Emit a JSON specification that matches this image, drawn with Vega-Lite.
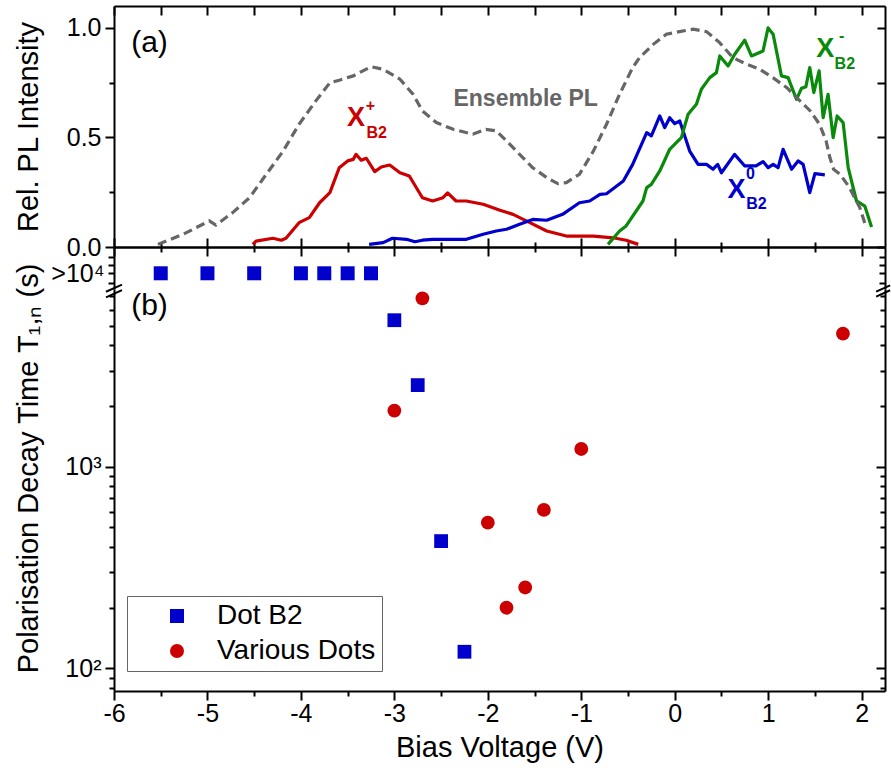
{
  "$schema": "https://vega.github.io/schema/vega-lite/v6.json",
  "padding": {"left": 13, "top": 5, "right": 0, "bottom": 5},
  "config": {
    "font": "Liberation Sans",
    "view": {"stroke": null},
    "axis": {"grid": false, "domainColor": "#000", "domainWidth": 2, "tickColor": "#000", "tickWidth": 2, "labelColor": "#000", "labelFontSize": 25, "labelFont": "Liberation Sans", "titleFont": "Liberation Sans", "titleFontSize": 29, "titleFontWeight": "normal", "titleColor": "#000", "labelFlush": false, "labelOverlap": false, "labelBound": false},
    "text": {"font": "Liberation Sans"}
  },
  "datasets": {
    "pl": [
      {"series": "X+", "V": -4.515, "I": 0.012}, {"series": "X+", "V": -4.48, "I": 0.027}, {"series": "X+", "V": -4.3, "I": 0.04}, {"series": "X+", "V": -4.21, "I": 0.031}, {"series": "X+", "V": -4.16, "I": 0.04}, {"series": "X+", "V": -4.02, "I": 0.111}, {"series": "X+", "V": -3.91, "I": 0.134}, {"series": "X+", "V": -3.8, "I": 0.202}, {"series": "X+", "V": -3.69, "I": 0.248}, {"series": "X+", "V": -3.59, "I": 0.362}, {"series": "X+", "V": -3.5, "I": 0.393}, {"series": "X+", "V": -3.44, "I": 0.4}, {"series": "X+", "V": -3.41, "I": 0.423}, {"series": "X+", "V": -3.355, "I": 0.396}, {"series": "X+", "V": -3.3, "I": 0.405}, {"series": "X+", "V": -3.21, "I": 0.344}, {"series": "X+", "V": -3.14, "I": 0.365}, {"series": "X+", "V": -3.05, "I": 0.374}, {"series": "X+", "V": -2.94, "I": 0.339}, {"series": "X+", "V": -2.84, "I": 0.324}, {"series": "X+", "V": -2.7, "I": 0.225}, {"series": "X+", "V": -2.59, "I": 0.21}, {"series": "X+", "V": -2.48, "I": 0.225}, {"series": "X+", "V": -2.43, "I": 0.247}, {"series": "X+", "V": -2.34, "I": 0.21}, {"series": "X+", "V": -2.23, "I": 0.21}, {"series": "X+", "V": -2.05, "I": 0.195}, {"series": "X+", "V": -1.87, "I": 0.168}, {"series": "X+", "V": -1.73, "I": 0.149}, {"series": "X+", "V": -1.55, "I": 0.111}, {"series": "X+", "V": -1.37, "I": 0.073}, {"series": "X+", "V": -1.16, "I": 0.05}, {"series": "X+", "V": -0.87, "I": 0.05}, {"series": "X+", "V": -0.66, "I": 0.042}, {"series": "X+", "V": -0.52, "I": 0.031}, {"series": "X+", "V": -0.39, "I": 0.012},
      {"series": "X0", "V": -3.27, "I": 0.012}, {"series": "X0", "V": -3.12, "I": 0.02}, {"series": "X0", "V": -3.02, "I": 0.04}, {"series": "X0", "V": -2.87, "I": 0.035}, {"series": "X0", "V": -2.78, "I": 0.024}, {"series": "X0", "V": -2.7, "I": 0.031}, {"series": "X0", "V": -2.59, "I": 0.035}, {"series": "X0", "V": -2.23, "I": 0.035}, {"series": "X0", "V": -2.05, "I": 0.058}, {"series": "X0", "V": -1.91, "I": 0.073}, {"series": "X0", "V": -1.8, "I": 0.081}, {"series": "X0", "V": -1.66, "I": 0.104}, {"series": "X0", "V": -1.52, "I": 0.126}, {"series": "X0", "V": -1.37, "I": 0.122}, {"series": "X0", "V": -1.2, "I": 0.149}, {"series": "X0", "V": -1.02, "I": 0.202}, {"series": "X0", "V": -0.91, "I": 0.21}, {"series": "X0", "V": -0.8, "I": 0.24}, {"series": "X0", "V": -0.73, "I": 0.243}, {"series": "X0", "V": -0.55, "I": 0.301}, {"series": "X0", "V": -0.45, "I": 0.377}, {"series": "X0", "V": -0.3, "I": 0.522}, {"series": "X0", "V": -0.25, "I": 0.507}, {"series": "X0", "V": -0.16, "I": 0.598}, {"series": "X0", "V": -0.107, "I": 0.545}, {"series": "X0", "V": -0.054, "I": 0.59}, {"series": "X0", "V": 0.0, "I": 0.563}, {"series": "X0", "V": 0.054, "I": 0.575}, {"series": "X0", "V": 0.16, "I": 0.438}, {"series": "X0", "V": 0.25, "I": 0.377}, {"series": "X0", "V": 0.34, "I": 0.377}, {"series": "X0", "V": 0.41, "I": 0.355}, {"series": "X0", "V": 0.46, "I": 0.377}, {"series": "X0", "V": 0.5, "I": 0.339}, {"series": "X0", "V": 0.64, "I": 0.423}, {"series": "X0", "V": 0.75, "I": 0.37}, {"series": "X0", "V": 0.87, "I": 0.37}, {"series": "X0", "V": 0.945, "I": 0.39}, {"series": "X0", "V": 1.0, "I": 0.362}, {"series": "X0", "V": 1.053, "I": 0.377}, {"series": "X0", "V": 1.106, "I": 0.362}, {"series": "X0", "V": 1.16, "I": 0.446}, {"series": "X0", "V": 1.25, "I": 0.355}, {"series": "X0", "V": 1.32, "I": 0.393}, {"series": "X0", "V": 1.374, "I": 0.377}, {"series": "X0", "V": 1.445, "I": 0.248}, {"series": "X0", "V": 1.5, "I": 0.335}, {"series": "X0", "V": 1.606, "I": 0.329},
      {"series": "X-", "V": -0.714, "I": 0.012}, {"series": "X-", "V": -0.59, "I": 0.073}, {"series": "X-", "V": -0.52, "I": 0.096}, {"series": "X-", "V": -0.34, "I": 0.21}, {"series": "X-", "V": -0.3, "I": 0.271}, {"series": "X-", "V": -0.25, "I": 0.286}, {"series": "X-", "V": -0.16, "I": 0.347}, {"series": "X-", "V": -0.054, "I": 0.446}, {"series": "X-", "V": 0.036, "I": 0.484}, {"series": "X-", "V": 0.071, "I": 0.499}, {"series": "X-", "V": 0.143, "I": 0.606}, {"series": "X-", "V": 0.232, "I": 0.652}, {"series": "X-", "V": 0.285, "I": 0.72}, {"series": "X-", "V": 0.375, "I": 0.773}, {"series": "X-", "V": 0.446, "I": 0.796}, {"series": "X-", "V": 0.482, "I": 0.872}, {"series": "X-", "V": 0.571, "I": 0.826}, {"series": "X-", "V": 0.642, "I": 0.88}, {"series": "X-", "V": 0.749, "I": 0.944}, {"series": "X-", "V": 0.821, "I": 0.872}, {"series": "X-", "V": 0.945, "I": 0.895}, {"series": "X-", "V": 0.999, "I": 1.0}, {"series": "X-", "V": 1.053, "I": 0.971}, {"series": "X-", "V": 1.142, "I": 0.781}, {"series": "X-", "V": 1.213, "I": 0.773}, {"series": "X-", "V": 1.303, "I": 0.674}, {"series": "X-", "V": 1.356, "I": 0.724}, {"series": "X-", "V": 1.403, "I": 0.731}, {"series": "X-", "V": 1.445, "I": 0.819}, {"series": "X-", "V": 1.488, "I": 0.705}, {"series": "X-", "V": 1.545, "I": 0.804}, {"series": "X-", "V": 1.588, "I": 0.59}, {"series": "X-", "V": 1.641, "I": 0.697}, {"series": "X-", "V": 1.695, "I": 0.499}, {"series": "X-", "V": 1.738, "I": 0.598}, {"series": "X-", "V": 1.802, "I": 0.568}, {"series": "X-", "V": 1.856, "I": 0.362}, {"series": "X-", "V": 1.945, "I": 0.21}, {"series": "X-", "V": 2.034, "I": 0.187}, {"series": "X-", "V": 2.106, "I": 0.091},
      {"series": "Ensemble PL", "V": -5.53, "I": 0.012}, {"series": "Ensemble PL", "V": -5.26, "I": 0.058}, {"series": "Ensemble PL", "V": -4.98, "I": 0.119}, {"series": "Ensemble PL", "V": -4.91, "I": 0.1}, {"series": "Ensemble PL", "V": -4.73, "I": 0.157}, {"series": "Ensemble PL", "V": -4.55, "I": 0.225}, {"series": "Ensemble PL", "V": -4.37, "I": 0.332}, {"series": "Ensemble PL", "V": -4.19, "I": 0.438}, {"series": "Ensemble PL", "V": -4.02, "I": 0.56}, {"series": "Ensemble PL", "V": -3.84, "I": 0.667}, {"series": "Ensemble PL", "V": -3.69, "I": 0.75}, {"series": "Ensemble PL", "V": -3.59, "I": 0.761}, {"series": "Ensemble PL", "V": -3.44, "I": 0.781}, {"series": "Ensemble PL", "V": -3.25, "I": 0.823}, {"series": "Ensemble PL", "V": -3.12, "I": 0.811}, {"series": "Ensemble PL", "V": -2.94, "I": 0.766}, {"series": "Ensemble PL", "V": -2.8, "I": 0.697}, {"series": "Ensemble PL", "V": -2.7, "I": 0.621}, {"series": "Ensemble PL", "V": -2.55, "I": 0.568}, {"series": "Ensemble PL", "V": -2.37, "I": 0.537}, {"series": "Ensemble PL", "V": -2.16, "I": 0.515}, {"series": "Ensemble PL", "V": -2.02, "I": 0.537}, {"series": "Ensemble PL", "V": -1.91, "I": 0.53}, {"series": "Ensemble PL", "V": -1.8, "I": 0.484}, {"series": "Ensemble PL", "V": -1.66, "I": 0.423}, {"series": "Ensemble PL", "V": -1.52, "I": 0.362}, {"series": "Ensemble PL", "V": -1.37, "I": 0.317}, {"series": "Ensemble PL", "V": -1.25, "I": 0.289}, {"series": "Ensemble PL", "V": -1.16, "I": 0.294}, {"series": "Ensemble PL", "V": -1.02, "I": 0.332}, {"series": "Ensemble PL", "V": -0.87, "I": 0.438}, {"series": "Ensemble PL", "V": -0.73, "I": 0.56}, {"series": "Ensemble PL", "V": -0.59, "I": 0.697}, {"series": "Ensemble PL", "V": -0.45, "I": 0.819}, {"series": "Ensemble PL", "V": -0.375, "I": 0.865}, {"series": "Ensemble PL", "V": -0.23, "I": 0.925}, {"series": "Ensemble PL", "V": -0.09, "I": 0.971}, {"series": "Ensemble PL", "V": 0.05, "I": 0.983}, {"series": "Ensemble PL", "V": 0.2, "I": 0.994}, {"series": "Ensemble PL", "V": 0.34, "I": 0.983}, {"series": "Ensemble PL", "V": 0.48, "I": 0.933}, {"series": "Ensemble PL", "V": 0.62, "I": 0.865}, {"series": "Ensemble PL", "V": 0.77, "I": 0.834}, {"series": "Ensemble PL", "V": 0.91, "I": 0.811}, {"series": "Ensemble PL", "V": 1.05, "I": 0.773}, {"series": "Ensemble PL", "V": 1.2, "I": 0.727}, {"series": "Ensemble PL", "V": 1.34, "I": 0.667}, {"series": "Ensemble PL", "V": 1.45, "I": 0.621}, {"series": "Ensemble PL", "V": 1.55, "I": 0.56}, {"series": "Ensemble PL", "V": 1.62, "I": 0.484}, {"series": "Ensemble PL", "V": 1.66, "I": 0.408}, {"series": "Ensemble PL", "V": 1.7, "I": 0.355}, {"series": "Ensemble PL", "V": 1.77, "I": 0.332}, {"series": "Ensemble PL", "V": 1.87, "I": 0.271}, {"series": "Ensemble PL", "V": 1.98, "I": 0.18}, {"series": "Ensemble PL", "V": 2.05, "I": 0.088}
    ],
    "decay": [
      {"group": "Dot B2", "V": -5.5, "T": 10000, "lower_bound": true},
      {"group": "Dot B2", "V": -5.0, "T": 10000, "lower_bound": true},
      {"group": "Dot B2", "V": -4.5, "T": 10000, "lower_bound": true},
      {"group": "Dot B2", "V": -4.0, "T": 10000, "lower_bound": true},
      {"group": "Dot B2", "V": -3.75, "T": 10000, "lower_bound": true},
      {"group": "Dot B2", "V": -3.5, "T": 10000, "lower_bound": true},
      {"group": "Dot B2", "V": -3.25, "T": 10000, "lower_bound": true},
      {"group": "Dot B2", "V": -3.0, "T": 5330, "lower_bound": false},
      {"group": "Dot B2", "V": -2.75, "T": 2540, "lower_bound": false},
      {"group": "Dot B2", "V": -2.5, "T": 428, "lower_bound": false},
      {"group": "Dot B2", "V": -2.25, "T": 121, "lower_bound": false},
      {"group": "Various Dots", "V": -3.0, "T": 1900, "lower_bound": false},
      {"group": "Various Dots", "V": -2.7, "T": 6840, "lower_bound": false},
      {"group": "Various Dots", "V": -2.0, "T": 528, "lower_bound": false},
      {"group": "Various Dots", "V": -1.8, "T": 200, "lower_bound": false},
      {"group": "Various Dots", "V": -1.6, "T": 252, "lower_bound": false},
      {"group": "Various Dots", "V": -1.4, "T": 611, "lower_bound": false},
      {"group": "Various Dots", "V": -1.0, "T": 1225, "lower_bound": false},
      {"group": "Various Dots", "V": 1.8, "T": 4570, "lower_bound": false}
    ]
  },
  "vconcat": [
    {
      "width": 771,
      "height": 241,
      "layer": [
        {
          "data": {"name": "pl"},
          "transform": [{"filter": "datum.series != 'Ensemble PL'"}],
          "mark": {"type": "line", "strokeWidth": 3.2, "strokeJoin": "round"},
          "encoding": {
            "x": {"field": "V", "type": "quantitative", "scale": {"domain": [-6, 2.25], "nice": false, "zero": false},
              "axis": {"orient": "bottom", "labels": false, "title": null, "values": [-6, -5.5, -5, -4.5, -4, -3.5, -3, -2.5, -2, -1.5, -1, -0.5, 0, 0.5, 1, 1.5, 2], "tickSize": {"condition": {"test": "datum.value % 1 == 0", "value": -9}, "value": -5}}},
            "y": {"field": "I", "type": "quantitative", "scale": {"domain": [0, 1.1], "nice": false, "zero": false},
              "axis": {"orient": "left", "title": "Rel. PL Intensity", "values": [0, 0.25, 0.5, 0.75, 1], "labelExpr": "datum.value == 0 ? '0.0' : datum.value == 0.5 ? '0.5' : datum.value == 1 ? '1.0' : ''", "tickSize": {"condition": {"test": "datum.value % 0.5 == 0", "value": 9}, "value": 5}, "labelPadding": 4, "titleX": -86, "titleBaseline": "middle"}},
            "color": {"field": "series", "type": "nominal", "scale": {"domain": ["X+", "X0", "X-"], "range": ["#cc0000", "#0000cc", "#0a8a0a"]}, "legend": null}
          }
        },
        {
          "data": {"name": "pl"},
          "transform": [{"filter": "datum.series == 'Ensemble PL'"}],
          "mark": {"type": "line", "strokeWidth": 3.2, "strokeDash": [9, 5], "color": "#666666"},
          "encoding": {
            "x": {"field": "V", "type": "quantitative", "axis": {"orient": "top", "labels": false, "title": null, "values": [-6, -5.5, -5, -4.5, -4, -3.5, -3, -2.5, -2, -1.5, -1, -0.5, 0, 0.5, 1, 1.5, 2], "tickSize": -9}},
            "y": {"field": "I", "type": "quantitative", "axis": {"orient": "right", "labels": false, "title": null, "values": [0, 0.25, 0.5, 0.75, 1], "tickSize": -8}}
          }
        },
        {"data": {"values": [{}]}, "mark": {"type": "text", "text": "(a)", "fontSize": 30, "align": "center", "baseline": "middle", "color": "#000"},
          "encoding": {"x": {"datum": -5.62, "type": "quantitative", "axis": null}, "y": {"datum": 0.932, "type": "quantitative", "axis": null}}},
        {"data": {"values": [{}]}, "mark": {"type": "text", "text": "Ensemble PL", "fontSize": 23, "fontWeight": "bold", "align": "center", "baseline": "middle", "color": "#666666"},
          "encoding": {"x": {"datum": -1.595, "type": "quantitative", "axis": null}, "y": {"datum": 0.676, "type": "quantitative", "axis": null}}},
        {"data": {"values": [{}]}, "mark": {"type": "text", "text": "X", "fontSize": 27, "fontWeight": "bold", "align": "center", "baseline": "middle", "color": "#cc0000"},
          "encoding": {"x": {"datum": -3.41, "type": "quantitative", "axis": null}, "y": {"datum": 0.589, "type": "quantitative", "axis": null}}},
        {"data": {"values": [{}]}, "mark": {"type": "text", "text": "+", "fontSize": 16, "fontWeight": "bold", "align": "center", "baseline": "middle", "color": "#cc0000"},
          "encoding": {"x": {"datum": -3.255, "type": "quantitative", "axis": null}, "y": {"datum": 0.644, "type": "quantitative", "axis": null}}},
        {"data": {"values": [{}]}, "mark": {"type": "text", "text": "B2", "fontSize": 16, "fontWeight": "bold", "align": "center", "baseline": "middle", "color": "#cc0000"},
          "encoding": {"x": {"datum": -3.19, "type": "quantitative", "axis": null}, "y": {"datum": 0.522, "type": "quantitative", "axis": null}}},
        {"data": {"values": [{}]}, "mark": {"type": "text", "text": "X", "fontSize": 27, "fontWeight": "bold", "align": "center", "baseline": "middle", "color": "#0000cc"},
          "encoding": {"x": {"datum": 0.66, "type": "quantitative", "axis": null}, "y": {"datum": 0.26, "type": "quantitative", "axis": null}}},
        {"data": {"values": [{}]}, "mark": {"type": "text", "text": "0", "fontSize": 16, "fontWeight": "bold", "align": "center", "baseline": "middle", "color": "#0000cc"},
          "encoding": {"x": {"datum": 0.81, "type": "quantitative", "axis": null}, "y": {"datum": 0.332, "type": "quantitative", "axis": null}}},
        {"data": {"values": [{}]}, "mark": {"type": "text", "text": "B2", "fontSize": 16, "fontWeight": "bold", "align": "center", "baseline": "middle", "color": "#0000cc"},
          "encoding": {"x": {"datum": 0.875, "type": "quantitative", "axis": null}, "y": {"datum": 0.195, "type": "quantitative", "axis": null}}},
        {"data": {"values": [{}]}, "mark": {"type": "text", "text": "X", "fontSize": 27, "fontWeight": "bold", "align": "center", "baseline": "middle", "color": "#0a8a0a"},
          "encoding": {"x": {"datum": 1.611, "type": "quantitative", "axis": null}, "y": {"datum": 0.906, "type": "quantitative", "axis": null}}},
        {"data": {"values": [{}]}, "mark": {"type": "text", "text": "-", "fontSize": 16, "fontWeight": "bold", "align": "center", "baseline": "middle", "color": "#0a8a0a"},
          "encoding": {"x": {"datum": 1.785, "type": "quantitative", "axis": null}, "y": {"datum": 0.963, "type": "quantitative", "axis": null}}},
        {"data": {"values": [{}]}, "mark": {"type": "text", "text": "B2", "fontSize": 16, "fontWeight": "bold", "align": "center", "baseline": "middle", "color": "#0a8a0a"},
          "encoding": {"x": {"datum": 1.82, "type": "quantitative", "axis": null}, "y": {"datum": 0.834, "type": "quantitative", "axis": null}}}
      ],
      "resolve": {"axis": {"x": "independent", "y": "independent"}}
    },
    {
      "width": 771,
      "height": 42,
      "layer": [
        {
          "data": {"name": "decay"},
          "transform": [{"filter": "datum.lower_bound"}],
          "mark": {"type": "point", "shape": "square", "filled": true, "size": 196, "color": "#0000cc", "opacity": 1},
          "encoding": {
            "x": {"field": "V", "type": "quantitative", "scale": {"domain": [-6, 2.25], "nice": false, "zero": false},
              "axis": {"orient": "top", "labels": false, "title": null, "values": [-6, -5.5, -5, -4.5, -4, -3.5, -3, -2.5, -2, -1.5, -1, -0.5, 0, 0.5, 1, 1.5, 2], "tickSize": {"condition": {"test": "datum.value % 1 == 0", "value": -9}, "value": -5}}},
            "y": {"field": "T", "type": "quantitative", "scale": {"type": "log", "domain": [8384, 13430], "nice": false},
              "axis": {"orient": "left", "title": null, "values": [9000, 10000, 11000, 12000], "labelExpr": "datum.value == 10000 ? '>10⁴' : ''", "tickSize": 6, "labelPadding": 4}}
          }
        },
        {
          "data": {"values": [{}]},
          "mark": {"type": "point", "shape": "M-1,0.1L1,-0.8M-1,0.8L1,-0.1", "size": 256, "filled": false, "stroke": "#000", "strokeWidth": 2, "opacity": 1},
          "encoding": {
            "x": {"datum": -6, "type": "quantitative", "axis": null},
            "y": {"datum": 8200, "type": "quantitative", "axis": {"orient": "right", "labels": false, "title": null, "values": [9000, 10000, 11000, 12000], "tickSize": -6}}
          }
        },
        {
          "data": {"values": [{}]},
          "mark": {"type": "point", "shape": "M-1,0.1L1,-0.8M-1,0.8L1,-0.1", "size": 196, "filled": false, "stroke": "#000", "strokeWidth": 2, "opacity": 1},
          "encoding": {
            "x": {"datum": 2.23, "type": "quantitative", "axis": null},
            "y": {"datum": 8200, "type": "quantitative", "axis": null}
          }
        }
      ],
      "resolve": {"axis": {"x": "independent", "y": "independent"}}
    },
    {
      "width": 771,
      "height": 402,
      "layer": [
        {
          "data": {"name": "decay"},
          "transform": [{"filter": "!datum.lower_bound"}],
          "mark": {"type": "point", "filled": true, "size": 190, "opacity": 1},
          "encoding": {
            "x": {"field": "V", "type": "quantitative", "scale": {"domain": [-6, 2.25], "nice": false, "zero": false},
              "axis": {"orient": "bottom", "title": "Bias Voltage (V)", "values": [-6, -5.5, -5, -4.5, -4, -3.5, -3, -2.5, -2, -1.5, -1, -0.5, 0, 0.5, 1, 1.5, 2], "labelExpr": "datum.value % 1 == 0 ? '' + datum.value : ''", "tickSize": {"condition": {"test": "datum.value % 1 == 0", "value": 9}, "value": 5}, "labelPadding": 1, "titlePadding": 7}},
            "y": {"field": "T", "type": "quantitative", "scale": {"type": "log", "domain": [77.3, 7611], "nice": false},
              "axis": {"orient": "left", "title": "Polarisation Decay Time T₁,ₙ (s)", "values": [80, 90, 100, 200, 300, 400, 500, 600, 700, 800, 900, 1000, 2000, 3000, 4000, 5000, 6000, 7000], "labelExpr": "datum.value == 100 ? '10²' : datum.value == 1000 ? '10³' : ''", "tickSize": {"condition": {"test": "datum.value == 100 || datum.value == 1000", "value": 9}, "value": 5}, "labelPadding": 4, "titleX": -86, "titleY": 179, "titleBaseline": "middle"}},
            "color": {"field": "group", "type": "nominal", "scale": {"domain": ["Dot B2", "Various Dots"], "range": ["#0000cc", "#cc0000"]},
              "legend": {"orient": "none", "legendX": 13, "legendY": 307, "title": null, "labelFontSize": 28, "labelColor": "#000", "symbolSize": 196, "padding": 6, "symbolOffset": 30, "labelOffset": 26, "strokeColor": "#666666", "rowPadding": 7, "symbolStrokeWidth": 0}},
            "shape": {"field": "group", "type": "nominal", "scale": {"domain": ["Dot B2", "Various Dots"], "range": ["square", "circle"]},
              "legend": {"orient": "none", "legendX": 13, "legendY": 307, "title": null, "labelFontSize": 28, "labelColor": "#000", "symbolSize": 196, "padding": 6, "symbolOffset": 30, "labelOffset": 26, "strokeColor": "#666666", "rowPadding": 7, "symbolStrokeWidth": 0}}
          }
        },
        {
          "data": {"values": [{}]},
          "mark": {"type": "text", "text": "(b)", "fontSize": 30, "align": "center", "baseline": "middle", "color": "#000"},
          "encoding": {
            "x": {"datum": -5.62, "type": "quantitative", "axis": null},
            "y": {"datum": 6270, "type": "quantitative", "axis": {"orient": "right", "labels": false, "title": null, "values": [80, 90, 100, 200, 300, 400, 500, 600, 700, 800, 900, 1000, 2000, 3000, 4000, 5000, 6000, 7000], "tickSize": {"condition": {"test": "datum.value == 100 || datum.value == 1000", "value": -9}, "value": -5}}}
          }
        }
      ],
      "resolve": {"axis": {"x": "independent", "y": "independent"}}
    }
  ],
  "spacing": 0,
  "bounds": "flush",
  "resolve": {"scale": {"x": "independent", "y": "independent", "color": "independent", "shape": "independent"}}
}
